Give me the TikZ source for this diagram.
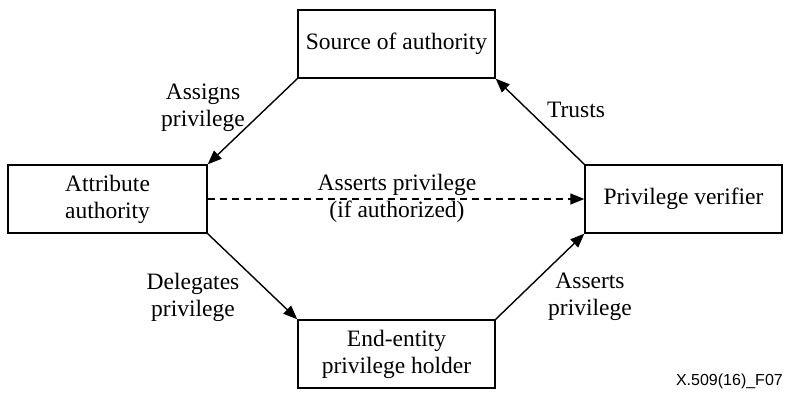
\documentclass[tikz,border=0pt]{standalone}
\usepackage{fontspec}
\setmainfont{Liberation Serif}
\newfontfamily\figlabelfont{Liberation Sans}
\usetikzlibrary{arrows.meta}
\tikzset{
  box/.style={draw, line width=1.4pt, minimum width=197pt, minimum height=68pt, align=center, inner sep=0pt, font=\fontsize{23.5}{27}\selectfont},
  lbl/.style={align=center, inner sep=0pt, font=\fontsize{23.5}{27}\selectfont},
  conn/.style={line width=1.4pt, -{Triangle[length=14pt,width=11pt]}},
}
\begin{document}
\begin{tikzpicture}[x=1pt,y=-1pt]
\useasboundingbox (0,0) rectangle (787,398);
\node[box] (src) at (396.5,44) {Source of authority};
\node[box, minimum width=199pt] (att) at (107.5,199) {Attribute\\authority};
\node[box] (ver) at (683.5,199) {Privilege verifier};
\node[box] (end) at (396.5,354) {End-entity\\privilege holder};
\draw[conn] (src.south west) -- (att.north east);
\draw[conn] (att.south east) -- (end.north west);
\draw[conn] (end.north east) -- (ver.south west);
\draw[conn] (ver.north west) -- (src.south east);
\draw[conn, dashed, dash pattern=on 7pt off 5pt] (att.east) -- (ver.west);
\node[lbl] (l1) at (203,108) {Assigns\\privilege};
\node[lbl] (l2) at (576,110) {Trusts};
\node[lbl] (l3) at (193,297) {Delegates\\privilege};
\node[lbl] (l4) at (590,297) {Asserts\\privilege};
\node[lbl] (l5) at (397,198) {Asserts privilege\\(if authorized)};
\node[anchor=east, inner sep=0pt, font=\figlabelfont\fontsize{16}{18}\selectfont] (fig) at (783,381) {X.509(16)\_F07};
\end{tikzpicture}
\end{document}
